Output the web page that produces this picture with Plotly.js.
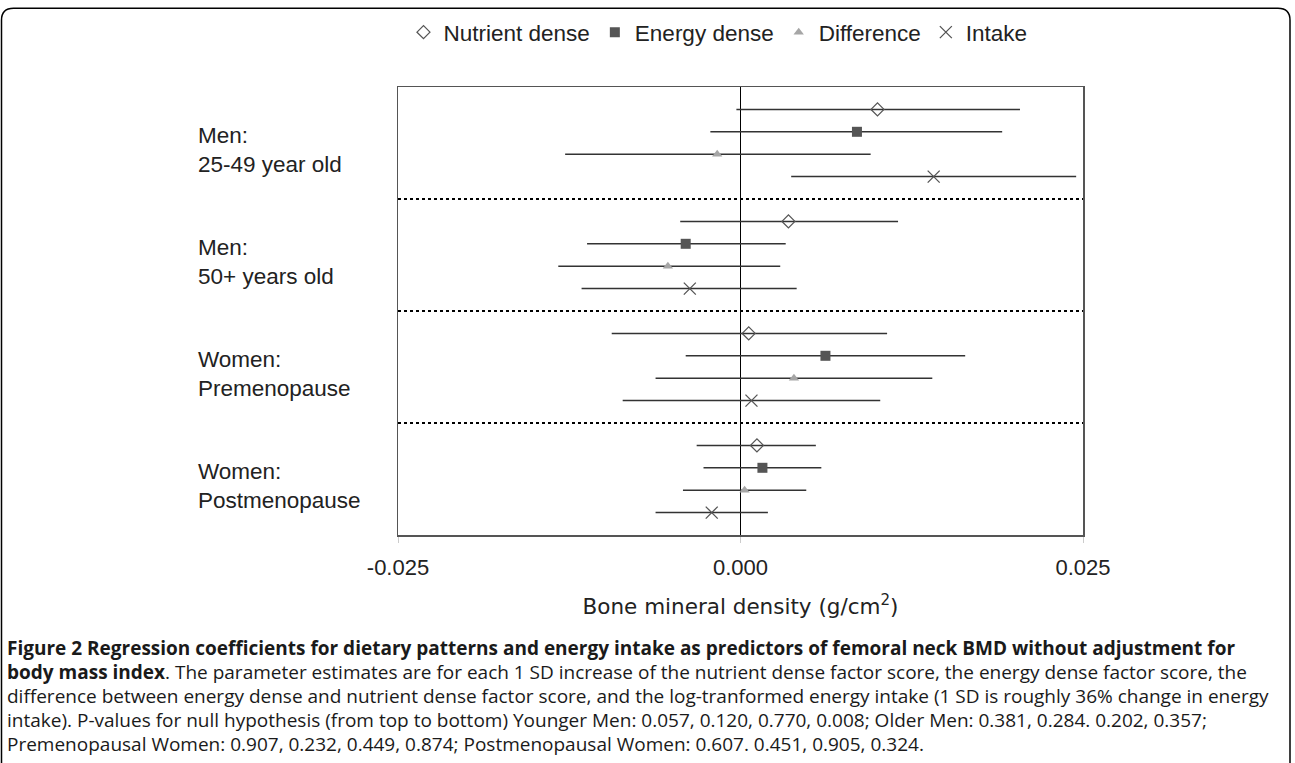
<!DOCTYPE html>
<html>
<head>
<meta charset="utf-8">
<script src="https://cdn.plot.ly/plotly-3.0.1.min.js"></script>
<style>html,body{margin:0;padding:0;background:#fff;}#chart{width:1295px;height:763px;}</style>
</head>
<body>
<div id="chart"></div>
<script>
// ---- data ----
var groups = ["Men:<br>25-49 year old", "Men:<br>50+ years old", "Women:<br>Premenopause", "Women:<br>Postmenopause"];
var seriesNames = ["Nutrient dense", "Energy dense", "Difference", "Intake"];

var nutrientEst = [0.0100, 0.0035, 0.0006, 0.0012];
var nutrientLo  = [-0.0003, -0.0044, -0.0094, -0.0032];
var nutrientHi  = [0.0204, 0.0115, 0.0107, 0.0055];

var energyEst = [0.0085, -0.0040, 0.0062, 0.0016];
var energyLo  = [-0.0022, -0.0112, -0.0040, -0.0027];
var energyHi  = [0.0191, 0.0033, 0.0164, 0.0059];

var diffEst = [-0.0017, -0.0053, 0.0039, 0.0003];
var diffLo  = [-0.0128, -0.0133, -0.0062, -0.0042];
var diffHi  = [0.0095, 0.0029, 0.0140, 0.0048];

var intakeEst = [0.0141, -0.0037, 0.0008, -0.0021];
var intakeLo  = [0.0037, -0.0116, -0.0086, -0.0062];
var intakeHi  = [0.0245, 0.0041, 0.0102, 0.0020];

var xTickVals = [-0.025, 0, 0.025];
var xTickText = ["-0.025", "0.000", "0.025"];
var xTitle = "Bone mineral density (g/cm<sup>2</sup>)";

var captionLines = [
  "<b>Figure 2 Regression coefficients for dietary patterns and energy intake as predictors of femoral neck BMD without adjustment for</b>",
  "<b>body mass index</b>. The parameter estimates are for each 1 SD increase of the nutrient dense factor score, the energy dense factor score, the",
  "difference between energy dense and nutrient dense factor score, and the log-tranformed energy intake (1 SD is roughly 36% change in energy",
  "intake). P-values for null hypothesis (from top to bottom) Younger Men: 0.057, 0.120, 0.770, 0.008; Older Men: 0.381, 0.284. 0.202, 0.357;",
  "Premenopausal Women: 0.907, 0.232, 0.449, 0.874; Postmenopausal Women: 0.607. 0.451, 0.905, 0.324."
];

// ---- geometry ----
var W = 1295, H = 763;
var PL = 398, PR = 1083, PT = 86, PB = 535;
function px2x(p){ return (p - PL) / (PR - PL); }
function py2y(p){ return (PB - p) / (PB - PT); }

var slots = 5; // each group has 5 slots, rows at 1..4
function rowY(row){ return groups.map(function(_, g){ return g * slots + row; }); }
function errPlus(est, hi){ return est.map(function(v, i){ return hi[i] - v; }); }
function errMinus(est, lo){ return est.map(function(v, i){ return v - lo[i]; }); }

var estSets = [nutrientEst, energyEst, diffEst, intakeEst];
var loSets = [nutrientLo, energyLo, diffLo, intakeLo];
var hiSets = [nutrientHi, energyHi, diffHi, intakeHi];
var markers = [
  {symbol: "diamond-open", size: 10, color: "#555555", line: {width: 1.3, color: "#555555"}},
  {symbol: "square", size: 10, color: "#555555", line: {width: 0}},
  {symbol: "triangle-up", size: 9, color: "#a6a6a6", line: {width: 0}},
  {symbol: "x-thin-open", size: 12, color: "#555555", line: {width: 1.3, color: "#555555"}}
];

var traces = seriesNames.map(function(name, k){
  return {
    type: "scatter", mode: "markers", name: name,
    x: estSets[k], y: rowY(k + 1),
    marker: markers[k],
    error_x: {
      type: "data", symmetric: false,
      array: errPlus(estSets[k], hiSets[k]),
      arrayminus: errMinus(estSets[k], loSets[k]),
      color: "#333333", thickness: 1.5, width: 0
    },
    cliponaxis: false
  };
});

var shapes = [];
[5, 10, 15].forEach(function(v){
  shapes.push({type: "line", xref: "paper", yref: "y", x0: 0, x1: 1, y0: v, y1: v,
    line: {color: "#000", width: 2, dash: "dot"}, layer: "above"});
});
// outer frame with rounded top corners
(function(){
  var l = 1.5, r = 1290, t = 7, b = 780, rad = 12;
  var path = "M " + px2x(l) + "," + py2y(b) +
    " L " + px2x(l) + "," + py2y(t + rad) +
    " Q " + px2x(l) + "," + py2y(t) + " " + px2x(l + rad) + "," + py2y(t) +
    " L " + px2x(r - rad) + "," + py2y(t) +
    " Q " + px2x(r) + "," + py2y(t) + " " + px2x(r) + "," + py2y(t + rad) +
    " L " + px2x(r) + "," + py2y(b);
  shapes.push({type: "path", xref: "paper", yref: "paper", path: path,
    line: {color: "#000", width: 1.5}});
})();

var annotations = [];
groups.forEach(function(g, i){
  annotations.push({xref: "paper", yref: "y", x: px2x(196), y: i * slots + 2.5,
    xanchor: "left", yanchor: "middle", align: "left", showarrow: false, yshift: -7,
    text: g, font: {family: "Liberation Sans, Arial, sans-serif", size: 22.5, color: "#222"}});
});
var capY = [648, 672, 696, 720, 744];
captionLines.forEach(function(t, i){
  annotations.push({xref: "paper", yref: "paper", x: px2x(5), y: py2y(capY[i]),
    xanchor: "left", yanchor: "middle", align: "left", showarrow: false,
    text: t, font: {family: "Open Sans, sans-serif", size: 19, color: "#1a1a1a"}});
});

var layout = {
  width: W, height: H,
  margin: {l: PL, r: W - PR, t: PT, b: H - PB, pad: 0},
  paper_bgcolor: "#fff", plot_bgcolor: "#fff",
  showlegend: true,
  legend: {orientation: "h", x: px2x(718), xanchor: "center", y: py2y(11), yanchor: "top",
    font: {family: "Liberation Sans, Arial, sans-serif", size: 22.5, color: "#222"},
    itemwidth: 30, tracegroupgap: 0},
  xaxis: {
    range: [-0.025, 0.025], tickvals: xTickVals, ticktext: xTickText,
    showgrid: false, zeroline: true, zerolinecolor: "#000", zerolinewidth: 1.2,
    showline: true, linecolor: "#555", linewidth: 1.5, mirror: true,
    ticks: "outside", ticklen: 6, tickcolor: "#ccc", tickwidth: 1,
    ticklabelstandoff: 6,
    tickfont: {family: "Liberation Sans, Arial, sans-serif", size: 22, color: "#222"},
    title: {text: xTitle, standoff: 20, font: {family: "DejaVu Sans, sans-serif", size: 21.5, color: "#222"}}
  },
  yaxis: {
    range: [20, 0], showticklabels: false, showgrid: false, zeroline: false,
    showline: true, linecolor: "#555", linewidth: 1.5, mirror: true, ticks: ""
  },
  shapes: shapes,
  annotations: annotations
};

Plotly.newPlot("chart", traces, layout, {displayModeBar: false, staticPlot: true});
</script>
</body>
</html>
